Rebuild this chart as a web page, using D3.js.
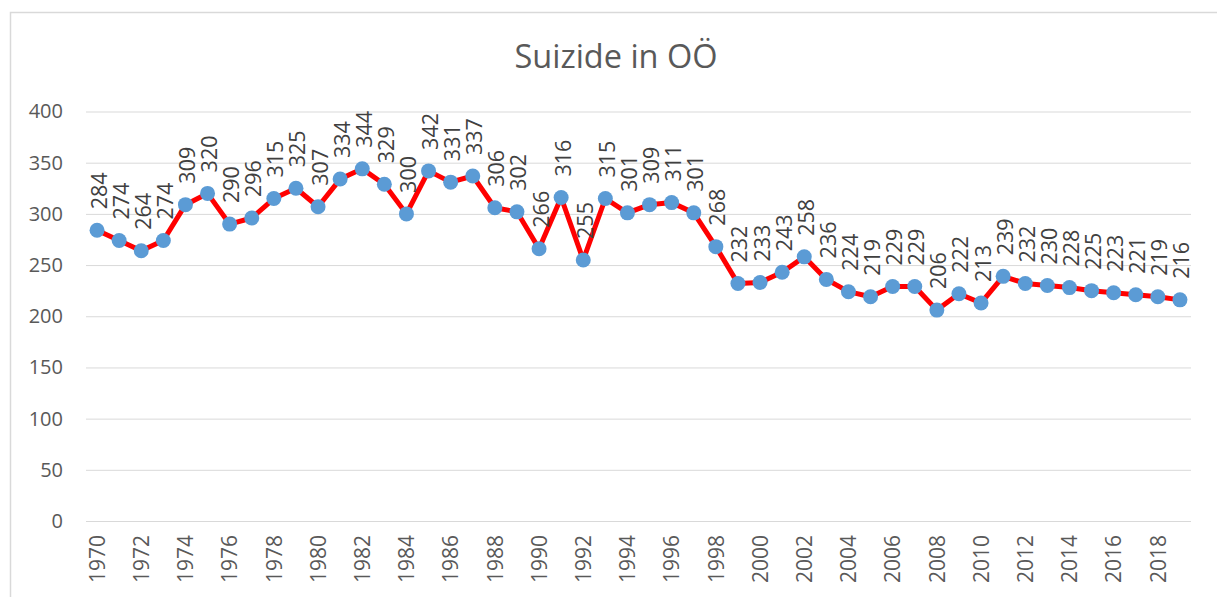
<!DOCTYPE html>
<html>
<head>
<meta charset="utf-8">
<script src="https://cdn.jsdelivr.net/npm/d3@7"></script>
<style>
  body { margin: 0; background: #fff; }
  svg { display: block; font-family: 'Open Sans', sans-serif; }
</style>
</head>
<body>
<svg width="1217" height="597"></svg>
<script>
var years = d3.range(1970, 2020)
var values = [284, 274, 264, 274, 309, 320, 290, 296, 315, 325,
  307, 334, 344, 329, 300, 342, 331, 337, 306, 302,
  266, 316, 255, 315, 301, 309, 311, 301, 268, 232,
  233, 243, 258, 236, 224, 219, 229, 229, 206, 222,
  213, 239, 232, 230, 228, 225, 223, 221, 219, 216]
var yTicks = [0, 50, 100, 150, 200, 250, 300, 350, 400]
var title = 'Suizide in OÖ'

;(function (d3) {
  var svg = d3.select('svg')

  var left = 86
  var right = 1191
  var top = 111.5
  var bottom = 521

  var data = years.map(function (y, i) {
    return {year: y, value: values[i]}
  })

  // chart area border
  svg.append('rect')
    .attr('x', 10.5)
    .attr('y', 12.5)
    .attr('width', 1220)
    .attr('height', 600)
    .style('fill', '#fff')
    .style('stroke', '#d9d9d9')
    .style('stroke-width', 1.5)

  svg.append('text')
    .attr('x', 616)
    .attr('y', 68)
    .attr('text-anchor', 'middle')
    .style('font-size', '32.5px')
    .style('fill', '#595959')
    .text(title)

  var x = d3.scaleBand()
        .domain(years)
        .range([left, right])

  var y = d3.scaleLinear()
        .domain([0, 400])
        .range([bottom, top])

  var yAxis = d3.axisLeft(y)
        .tickValues(yTicks)
        .tickSize(-(right - left))
        .tickPadding(23)

  var gy = svg.append('g')
        .attr('transform', 'translate(' + left + ',0)')
        .call(yAxis)
  gy.select('.domain').remove()
  gy.selectAll('line')
    .style('stroke', '#d9d9d9')
    .style('stroke-width', 1)
  gy.selectAll('text')
    .style('font-size', '20px')
    .style('fill', '#595959')
    .style('font-family', "'Open Sans', sans-serif")

  var xAxis = d3.axisBottom(x)
        .tickValues(years.filter(function (d) { return d % 2 === 0 }))
        .tickSize(0)

  var gx = svg.append('g')
        .attr('transform', 'translate(0,' + bottom + ')')
        .call(xAxis)
  gx.select('.domain').remove()
  gx.selectAll('text')
    .attr('transform', 'rotate(-90)')
    .attr('x', -14)
    .attr('y', 0)
    .attr('dy', '0.37em')
    .attr('dx', 0)
    .attr('text-anchor', 'end')
    .style('font-size', '21px')
    .style('fill', '#595959')
    .style('font-family', "'Open Sans', sans-serif")

  var cx = function (d) { return x(d.year) + x.bandwidth() / 2 }

  var ln = d3.line()
        .x(cx)
        .y(function (d) { return y(d.value) })

  svg.append('path')
    .datum(data)
    .attr('d', ln)
    .style('fill', 'none')
    .style('stroke', '#ff0000')
    .style('stroke-width', 5)
    .style('stroke-linejoin', 'round')

  svg.selectAll('circle.pt')
    .data(data)
    .enter()
    .append('circle')
    .attr('class', 'pt')
    .attr('cx', cx)
    .attr('cy', function (d) { return y(d.value) })
    .attr('r', 7.5)
    .style('fill', '#5b9bd5')

  svg.selectAll('text.lbl')
    .data(data)
    .enter()
    .append('text')
    .attr('class', 'lbl')
    .attr('transform', function (d) {
      return 'translate(' + (cx(d) + 1.5) + ',' + (y(d.value) - 21) + ') rotate(-90)'
    })
    .attr('dy', '0.37em')
    .style('font-size', '21.5px')
    .style('fill', '#404040')
    .text(function (d) { return d.value })
})(window.d3)
</script>
</body>
</html>
